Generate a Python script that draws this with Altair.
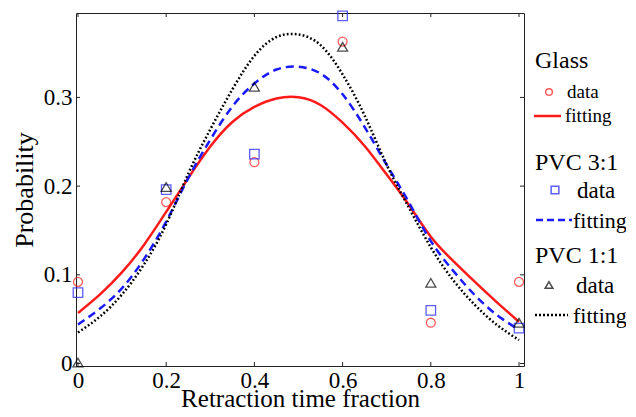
import altair as alt
import pandas as pd

# ---- data ----
x_points = [0.0, 0.2, 0.4, 0.6, 0.8, 1.0]
glass_data = [0.092, 0.182, 0.227, 0.363, 0.046, 0.092]
pvc31_data = [0.080, 0.196, 0.236, 0.392, 0.060, 0.040]
pvc11_data = [0.001, 0.199, 0.312, 0.357, 0.091, 0.046]

fit_x = [0.0, 0.05, 0.1, 0.15, 0.2, 0.25, 0.3, 0.35, 0.4, 0.45, 0.5,
         0.55, 0.6, 0.65, 0.7, 0.75, 0.8, 0.85, 0.9, 0.95, 1.0]
glass_fit = [0.057, 0.078, 0.103, 0.134, 0.171, 0.209, 0.2446, 0.2723, 0.2893, 0.2988, 0.3002,
             0.2915, 0.2715, 0.2453, 0.213, 0.179, 0.143, 0.116, 0.092, 0.069, 0.047]
pvc31_fit = [0.044, 0.062, 0.085, 0.118, 0.160, 0.209, 0.2523, 0.2898, 0.3157, 0.3315, 0.3345,
             0.327, 0.3035, 0.2666, 0.224, 0.182, 0.138, 0.105, 0.077, 0.0547, 0.038]
pvc11_fit = [0.035, 0.053, 0.078, 0.112, 0.157, 0.214, 0.264, 0.309, 0.347, 0.368, 0.371,
             0.359, 0.326, 0.2795, 0.224, 0.176, 0.131, 0.0945, 0.066, 0.0435, 0.0265]

x_ticks = [0, 0.2, 0.4, 0.6, 0.8, 1.0]
y_ticks = [0, 0.1, 0.2, 0.3]

x_title = "Retraction time fraction"
y_title = "Probability"

W, H = 448, 353
FONT = "Liberation Serif"
RED, BLUE, BLACK = "#ff1a1a", "#1a1aff", "#000000"

xscale = alt.Scale(domain=[-0.0045, 1.0113], nice=False, zero=False)
yscale = alt.Scale(domain=[-0.0028, 0.3952], nice=False, zero=False)

xaxis = alt.Axis(values=x_ticks, format="~g", grid=False, ticks=False, domain=False,
                 labelFont=FONT, labelFontSize=23, labelColor="black", labelPadding=3,
                 labelFlush=False, labelOverlap=False,
                 titleFont=FONT, titleFontSize=25, titleFontWeight="normal",
                 titleColor="black", titleBaseline="alphabetic", titleY=40)
yaxis = alt.Axis(values=y_ticks, format="~g", grid=False, ticks=False, domain=False,
                 labelFont=FONT, labelFontSize=23, labelColor="black", labelPadding=4,
                 labelFlush=False, labelOverlap=False,
                 titleFont=FONT, titleFontSize=26, titleFontWeight="normal",
                 titleColor="black", titlePadding=6)

xenc = alt.X("x:Q", scale=xscale, axis=xaxis, title=x_title)
yenc = alt.Y("y:Q", scale=yscale, axis=yaxis, title=y_title)

def fit_df(vals):
    return pd.DataFrame({"x": fit_x, "y": vals})

def pts_df(vals):
    return pd.DataFrame({"x": x_points, "y": vals})

glass_line = alt.Chart(fit_df(glass_fit)).mark_line(
    color=RED, strokeWidth=2.5, interpolate="natural").encode(x=xenc, y=yenc)
pvc31_line = alt.Chart(fit_df(pvc31_fit)).mark_line(
    color=BLUE, strokeWidth=2.5, strokeDash=[8, 5], interpolate="natural").encode(x=xenc, y=yenc)
pvc11_line = alt.Chart(fit_df(pvc11_fit)).mark_line(
    color=BLACK, strokeWidth=2.5, strokeDash=[1.8, 2.2], interpolate="natural").encode(x=xenc, y=yenc)

glass_pts = alt.Chart(pts_df(glass_data)).mark_point(
    shape="circle", filled=False, color=RED, size=80, strokeWidth=1.3).encode(x=xenc, y=yenc)
pvc31_pts = alt.Chart(pts_df(pvc31_data)).mark_point(
    shape="square", filled=False, color=BLUE, size=90, strokeWidth=1.3).encode(x=xenc, y=yenc)
pvc11_pts = alt.Chart(pts_df(pvc11_data)).mark_point(
    shape="triangle-up", filled=False, color=BLACK, size=100, strokeWidth=1.3).encode(x=xenc, y=yenc)

# inward ticks on all four sides
TL = 4
xt = pd.DataFrame({"x": x_ticks})
yt = pd.DataFrame({"y": y_ticks})
tick_style = dict(color="#222222", strokeWidth=1)
bottom_ticks = alt.Chart(xt).mark_rule(**tick_style).encode(x=xenc, y=alt.value(H), y2=alt.value(H - TL))
top_ticks = alt.Chart(xt).mark_rule(**tick_style).encode(x=xenc, y=alt.value(0), y2=alt.value(TL))
left_ticks = alt.Chart(yt).mark_rule(**tick_style).encode(y=yenc, x=alt.value(0), x2=alt.value(TL))
right_ticks = alt.Chart(yt).mark_rule(**tick_style).encode(y=yenc, x=alt.value(W), x2=alt.value(W - TL))

# ---- manual legend ----
one = pd.DataFrame({"a": [0]})

def ltext(txt, x, y, size):
    return alt.Chart(one).mark_text(align="left", baseline="middle", font=FONT,
                                    fontSize=size, color="black").encode(
        x=alt.value(x), y=alt.value(y), text=alt.value(txt))

def lsym(shape, color, x, y, size):
    return alt.Chart(one).mark_point(shape=shape, filled=False, color=color,
                                     size=size, strokeWidth=1.5).encode(
        x=alt.value(x), y=alt.value(y))

def lline(color, x1, x2, y, dash=None):
    kw = dict(color=color, strokeWidth=2.5)
    if dash:
        kw["strokeDash"] = dash
    return alt.Chart(one).mark_rule(**kw).encode(
        x=alt.value(x1), x2=alt.value(x2), y=alt.value(y))

legend = [
    ltext("Glass", 459, 48, 24),
    lsym("circle", RED, 473, 79, 45),
    ltext("data", 491, 79, 19),
    lline(RED, 458, 485, 103),
    ltext("fitting", 489, 103, 19),
    ltext("PVC 3:1", 459, 150, 24),
    lsym("square", BLUE, 479, 177, 60),
    ltext("data", 501, 178, 23),
    lline(BLUE, 460, 496, 207, [7, 4]),
    ltext("fitting", 497, 208, 22),
    ltext("PVC 1:1", 459, 243, 24),
    lsym("triangle-up", BLACK, 473, 272, 60),
    ltext("data", 500, 273, 23),
    lline(BLACK, 459, 492, 302, [2, 2]),
    ltext("fitting", 497, 303, 22),
]

chart = alt.layer(
    glass_line, pvc31_line, pvc11_line,
    glass_pts, pvc31_pts, pvc11_pts,
    bottom_ticks, top_ticks, left_ticks, right_ticks,
    *legend,
).properties(
    width=W, height=H,
    autosize=alt.AutoSizeParams(type="none"),
    padding={"left": 68, "top": 5, "right": 102, "bottom": 43},
    background="white",
).configure_view(stroke="#222222", strokeWidth=1)

chart.save("out.html", embed_options={"renderer": "svg", "actions": False})
